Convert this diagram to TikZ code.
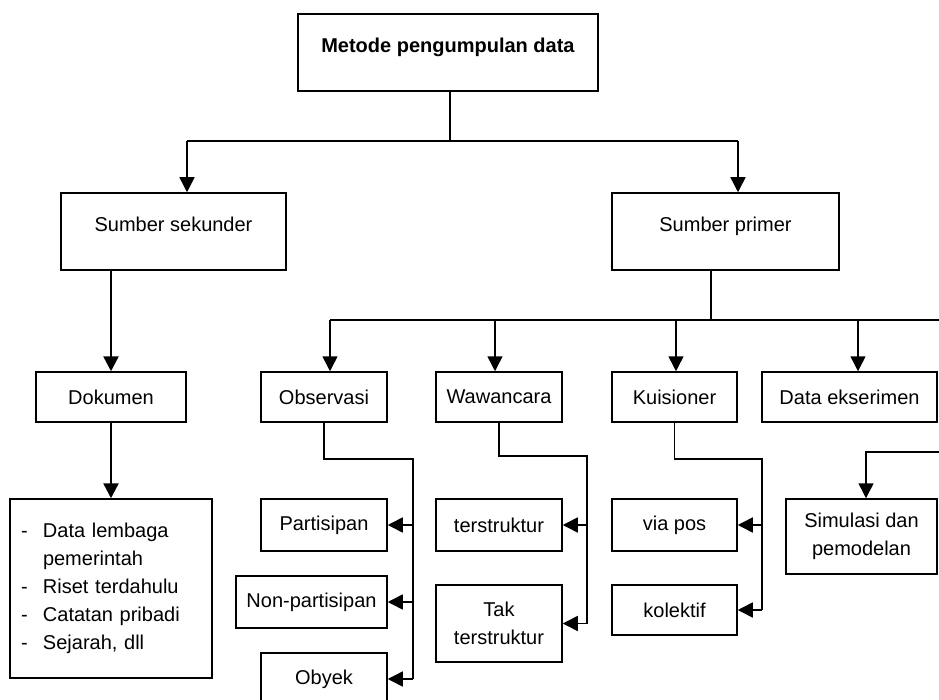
\documentclass[tikz,border=0pt]{standalone}
\usepackage{fontspec}
\setmainfont{Liberation Sans}
\usetikzlibrary{arrows.meta}

\newcommand{\butir}{\makebox[22pt][l]{-}}

\tikzset{
  kotak/.style={draw, line width=1.5pt, align=center, inner sep=0pt},
  kotakatas/.style={kotak, text height=15pt, text depth=15pt},
  garis/.style={line width=1.5pt},
  panah/.style={-{Triangle[length=15pt,width=15pt]}, line width=1.5pt},
}

\begin{document}
\begin{tikzpicture}[x=1pt, y=-1pt, font=\fontsize{20}{28}\selectfont]
    \clip (0,0) rectangle (939,700);

    % Kotak-kotak
    \node[kotakatas, minimum width=300pt, minimum height=77pt] (metode) at (448,52.5) {\textbf{Metode pengumpulan data}};
    \node[kotakatas, minimum width=225pt, minimum height=77pt] (sekunder) at (173.5,231.5) {Sumber sekunder};
    \node[kotakatas, minimum width=227pt, minimum height=77pt] (primer) at (725.5,231.5) {Sumber primer};

    \node[kotak, minimum width=150pt, minimum height=50pt] (dokumen) at (111,397) {Dokumen};
    \node[kotak, minimum width=202pt, minimum height=179pt, text width=180pt, inner xsep=11pt, align=left] (daftar) at (111,588.5)
        {\butir Data lembaga\\ \hspace*{22pt}pemerintah\\ \butir Riset terdahulu\\ \butir Catatan pribadi\\ \butir Sejarah, dll};

    \node[kotak, minimum width=126pt, minimum height=50pt] (observasi) at (324,397) {Observasi};
    \node[kotak, minimum width=126pt, minimum height=50pt] (wawancara) at (499,397) {Wawancara};
    \node[kotak, minimum width=125pt, minimum height=50pt] (kuisioner) at (674.5,397) {Kuisioner};
    \node[kotak, minimum width=175pt, minimum height=50pt] (eksperimen) at (849.5,397) {Data ekserimen};

    \node[kotak, minimum width=126pt, minimum height=52pt] (partisipan) at (324,525) {Partisipan};
    \node[kotak, minimum width=151pt, minimum height=52pt] (nonpartisipan) at (311.5,602) {Non-partisipan};
    \node[kotak, minimum width=126pt, minimum height=52pt] (obyek) at (324,679) {Obyek};

    \node[kotak, minimum width=126pt, minimum height=52pt] (terstruktur) at (499,525) {terstruktur};
    \node[kotak, minimum width=126pt, minimum height=77pt] (takstruktur) at (499,623.5) {Tak\\terstruktur};

    \node[kotak, minimum width=125pt, minimum height=52pt] (viapos) at (674.5,525) {via pos};
    \node[kotak, minimum width=125pt, minimum height=50pt] (kolektif) at (674.5,610) {kolektif};

    \node[kotak, minimum width=151pt, minimum height=75pt] (simulasi) at (861.5,536.5) {Simulasi dan\\pemodelan};

    % Cabang utama
    \coordinate (c0) at (450,141);
    \coordinate (c1) at (187,141);
    \coordinate (c2) at (738,141);
    \draw[garis] (metode.south -| c0) -- (c0);
    \draw[garis] (c1) -- (c2);
    \draw[panah] (c1) -- (c1 |- sekunder.north);
    \draw[panah] (c2) -- (c2 |- primer.north);

    % Sumber sekunder
    \draw[panah, line width=2.5pt] (sekunder.south -| dokumen.north) -- (dokumen.north);
    \draw[panah, line width=2.5pt] (dokumen.south) -- (daftar.north);

    % Sumber primer
    \coordinate (p0) at (711,320);
    \coordinate (p1) at (330,320);
    \coordinate (p2) at (960,320);
    \draw[garis] (primer.south -| p0) -- (p0);
    \draw[garis] (p1) -- (p2);
    \foreach \x/\n in {330/observasi, 495/wawancara, 676/kuisioner, 858/eksperimen} {
        \coordinate (ca) at (\x,320);
        \draw[panah] (ca) -- (ca |- \n.north);
    }

    % Observasi
    \coordinate (ob) at (413,459);
    \draw[garis] (observasi.south) |- (ob) -- (ob |- obyek.east);
    \foreach \n in {partisipan, nonpartisipan, obyek}
        \draw[panah] (ob |- \n.east) -- (\n.east);

    % Wawancara
    \coordinate (wa) at (587,456);
    \draw[garis] (wawancara.south) |- (wa) -- (wa |- takstruktur.east);
    \foreach \n in {terstruktur, takstruktur}
        \draw[panah] (wa |- \n.east) -- (\n.east);

    % Kuisioner
    \coordinate (ku) at (762,459);
    \draw[garis] (kuisioner.south) |- (ku) -- (ku |- kolektif.east);
    \foreach \n in {viapos, kolektif}
        \draw[panah] (ku |- \n.east) -- (\n.east);

    % Data eksperimen
    \coordinate (ek0) at (960,452);
    \coordinate (ek1) at (866,452);
    \draw[panah] (ek0) -- (ek1) -- (ek1 |- simulasi.north);
\end{tikzpicture}
\end{document}
